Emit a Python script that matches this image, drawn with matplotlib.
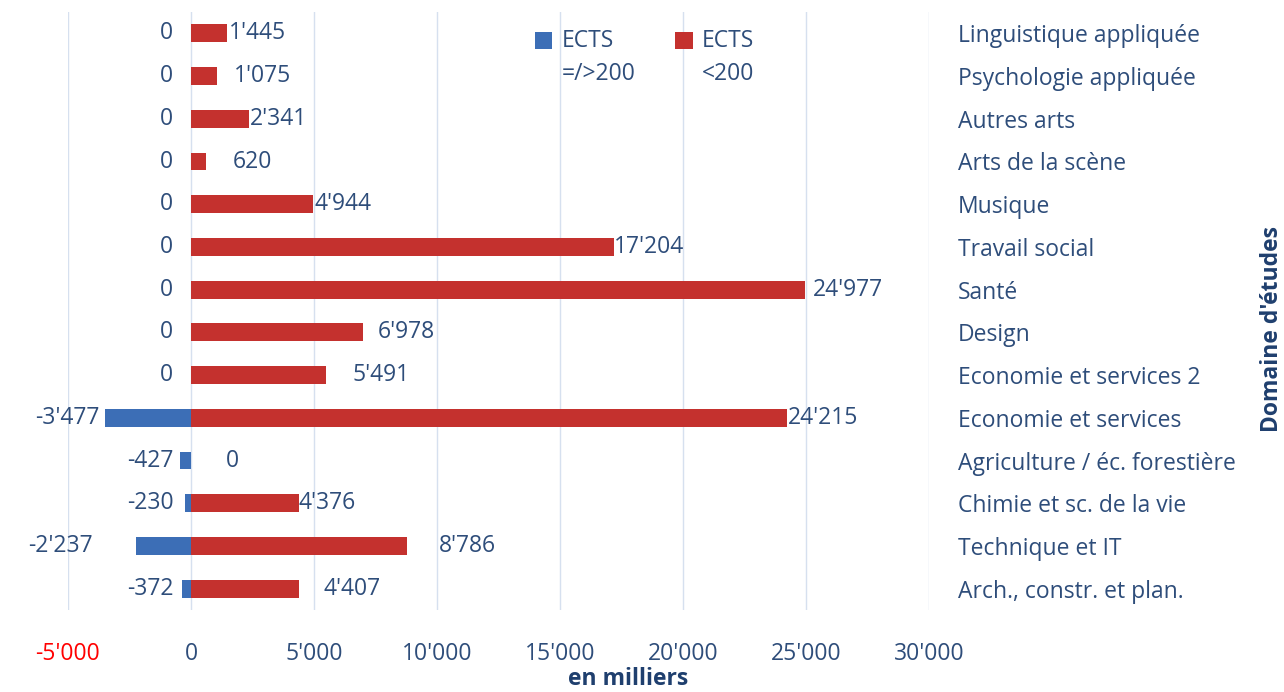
import matplotlib.pyplot as plt
import numpy as np
from matplotlib.ticker import FuncFormatter
from matplotlib.legend_handler import HandlerPatch
from matplotlib.patches import Rectangle

plt.rcParams['font.family'] = ['Open Sans', 'DejaVu Sans']

# domaines d'etudes (top to bottom)
domaines = ["Linguistique appliquée", "Psychologie appliquée", "Autres arts",
            "Arts de la scène", "Musique", "Travail social", "Santé", "Design",
            "Economie et services 2", "Economie et services",
            "Agriculture / éc. forestière", "Chimie et sc. de la vie",
            "Technique et IT", "Arch., constr. et plan."]
ects_plus = [0, 0, 0, 0, 0, 0, 0, 0, 0, -3477, -427, -230, -2237, -372]
ects_moins = [1445, 1075, 2341, 620, 4944, 17204, 24977, 6978, 5491, 24215,
              0, 4376, 8786, 4407]
series_labels = ['ECTS\n=/>200', 'ECTS\n<200']

# label nudges in points (labels were hand placed in the original)
nudge_red = [2, 12, 1, 19, 1, 0, 5, 11, 19, 1, 25, 0, 23, 17]
nudge_blue = [-13, -13, -13, -13, -13, -13, -13, -13, -13, -4, -5, -8, -31, -6]

blue = '#3C6EB6'
red = '#C4312E'
txt = '#2E4D7A'
fs = 16.5

def fmt(v, pos=None):
    return f"{int(v):,}".replace(",", "'")

# legend square aligned with the first line of the label
class TopSquare(HandlerPatch):
    def create_artists(self, legend, orig_handle, xdescent, ydescent,
                       width, height, fontsize, trans):
        p = Rectangle((-xdescent, -ydescent + 0.8 * fontsize), width, height,
                      facecolor=orig_handle.get_facecolor(), transform=trans)
        return [p]

fig = plt.figure(figsize=(12.84, 6.92), dpi=100)
ax = fig.add_axes([68/1284, 1-610/692, (929-68)/1284, 598/692])

y = np.arange(len(domaines))
b1 = ax.barh(y, ects_plus, height=0.42, color=blue, zorder=3)
b2 = ax.barh(y, ects_moins, height=0.42, color=red, zorder=3)

for i in range(len(domaines)):
    ax.annotate(fmt(ects_moins[i]), (ects_moins[i], y[i]), xytext=(nudge_red[i], 0),
                textcoords='offset points', ha='left', va='center', fontsize=fs, color=txt)
    ax.annotate(fmt(ects_plus[i]), (ects_plus[i], y[i]), xytext=(nudge_blue[i], 0),
                textcoords='offset points', ha='right', va='center', fontsize=fs, color=txt)

ax.set_xlim(-5000, 30000)
ax.set_ylim(len(domaines) - 0.5, -0.5)
ax.set_xticks(np.arange(-5000, 30001, 5000))
ax.xaxis.set_major_formatter(FuncFormatter(fmt))
ax.grid(axis='x', color='#D6E0EF', linewidth=1, zorder=0)
ax.tick_params(axis='x', length=0, pad=23, labelsize=fs, labelcolor=txt)
ax.get_xticklabels()[0].set_color('red')

ax.yaxis.tick_right()
ax.set_yticks(y)
ax.set_yticklabels(domaines)
ax.tick_params(axis='y', length=0, pad=21, labelsize=fs, labelcolor=txt)
for s in ax.spines.values():
    s.set_visible(False)

fig.text(628/1284, 1-679/692, 'en milliers', ha='center', va='center',
         fontsize=fs, fontweight='bold', color='#1F3F6E')
fig.text(1272/1284, 1-329/692, "Domaine d'études", rotation=90, ha='center',
         va='center', fontsize=fs, fontweight='bold', color='#1F3F6E')

leg = ax.legend([b1.patches[0], b2.patches[0]], series_labels, loc='upper left',
                bbox_to_anchor=(535/1284, 1-29/692),
                bbox_transform=fig.transFigure, ncol=2, frameon=False, fontsize=fs,
                handlelength=0.75, handleheight=0.75, handletextpad=0.4, columnspacing=1.75,
                labelcolor=txt, borderaxespad=0, borderpad=0,
                handler_map={Rectangle: TopSquare()})
for t in leg.get_texts():
    t.set_linespacing(1.5)

fig.savefig('out.png', dpi=100)
